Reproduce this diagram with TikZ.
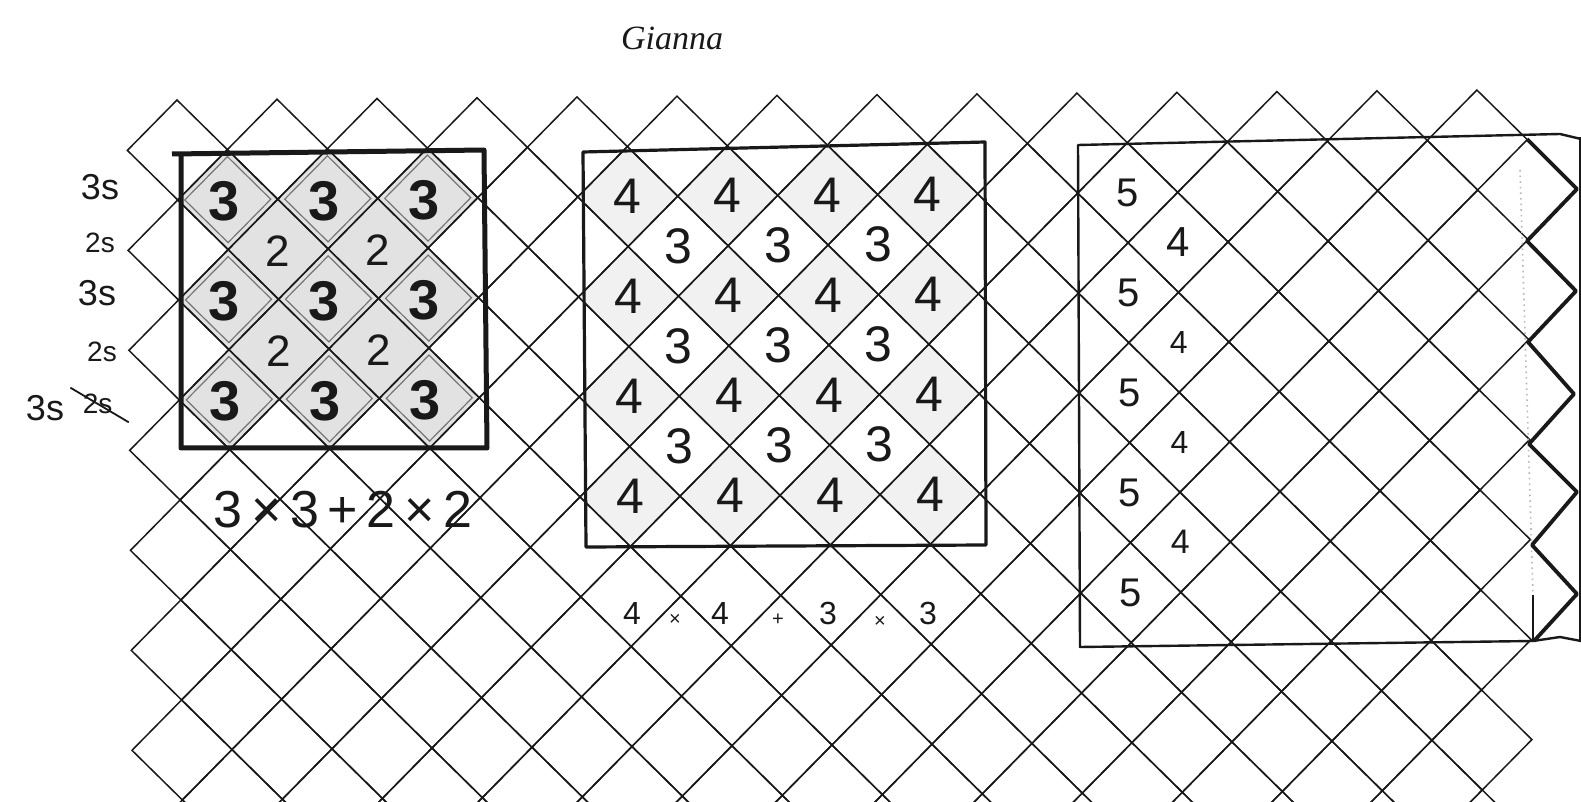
\documentclass[tikz,border=0pt]{standalone}
\usepackage{fontspec}
\setmainfont{Liberation Sans}
\newfontfamily\handfont{Liberation Serif}
\usepackage{xcolor}
\definecolor{ink}{RGB}{25,25,25}
\definecolor{lead}{RGB}{226,226,226}
\definecolor{llead}{RGB}{241,241,241}
\usepackage{tikz}
\usetikzlibrary{positioning}

\begin{document}
\begin{tikzpicture}[x=0.5pt,y=-0.5pt,
  gridl/.style={draw=ink,line width=0.75pt},
  sqa/.style={draw=ink,line width=2.5pt,line join=round},
  sqb/.style={draw=ink,line width=1.6pt,line join=round},
  sqc/.style={draw=ink,line width=1.2pt,line join=round},
  zig/.style={draw=ink,line width=1.9pt,line join=round},
  numa/.style={inner sep=0pt,text=ink,font=\fontsize{28}{28}\selectfont\bfseries},
  numb/.style={inner sep=0pt,text=ink,font=\fontsize{22}{22}\selectfont},
  numc/.style={inner sep=0pt,text=ink,font=\fontsize{25}{25}\selectfont},
  numd/.style={inner sep=0pt,text=ink,font=\fontsize{20}{20}\selectfont},
  lab/.style={inner sep=0pt,text=ink,font=\fontsize{18}{18}\selectfont},
  labs/.style={inner sep=0pt,text=ink,font=\fontsize{14}{14}\selectfont}
]
  \useasboundingbox (0,0) rectangle (1581,802);
  \clip (0,0) rectangle (1581,802);
  \fill[white] (0,0) rectangle (1581,802);

  \begin{scope}[rotate around={0.44:(177,100)}]
    % pencil shading
    \foreach \i/\j in {2/2,4/2,6/2,3/3,5/3,2/4,4/4,6/4,3/5,5/5,2/6,4/6,6/6}
      \fill[lead] ({127+50*\i},{50+50*\j}) -- ++(50,50) -- ++(-50,50) -- ++(-50,-50) -- cycle;
    \foreach \i in {10,12,14,16}
      \foreach \j in {2,4,6,8}
        \fill[llead] ({127+50*\i},{50+50*\j}) -- ++(50,50) -- ++(-50,50) -- ++(-50,-50) -- cycle;

    % Grid
    \foreach \i in {1,...,27}
      \foreach \j in {1,...,15}{
        \ifodd\numexpr\i+\j\relax\else
          \draw[gridl] ({127+50*\i},{50+50*\j}) -- ++(50,50) -- ++(-50,50) -- ++(-50,-50) -- cycle;
        \fi
      }

    % traced 3-cells
    \foreach \i/\j in {2/2,4/2,6/2,2/4,4/4,6/4,2/6,4/6,6/6}
      \draw[ink!60,line width=0.6pt] ({127+50*\i},{57+50*\j}) -- ++(43,43) -- ++(-43,43) -- ++(-43,-43) -- cycle;

    % Square 1
    \foreach \i/\j [count=\n] in {2/2,4/2,6/2,2/4,4/4,6/4,2/6,4/6,6/6}
      \node[numa] (a\n) at ({123+50*\i},{102+50*\j}) {3};
    \foreach \i/\j [count=\n] in {3/3,5/3,3/5,5/5}
      \node[numb] (b\n) at ({127+50*\i},{102+50*\j}) {2};

    % Square 2
    \foreach \i in {10,12,14,16}
      \foreach \j in {2,4,6,8}
        \node[numc] (c\i-\j) at ({127+50*\i},{100+50*\j}) {4};
    \foreach \i in {11,13,15}
      \foreach \j in {3,5,7}
        \node[numc] (d\i-\j) at ({127+50*\i},{100+50*\j}) {3};

    % Square 3
    \foreach \j in {2,4,6,8,10}
      \node[numd] (f\j) at (1127,{100+50*\j}) {5};
    \foreach \j/\s in {3/21,5/16,7/16,9/17}
      \node[inner sep=0pt,text=ink,font=\fontsize{\s}{\s}\selectfont] (g\j) at (1177,{100+50*\j}) {4};
  \end{scope}

  % Squares
  \draw[sqa] (172,154) -- (484,150) -- (487,448) -- (181,448) -- (181,152);
  \draw[sqb] (583,152) -- (985,142) -- (986,545) -- (586,547) -- cycle;
  \draw[sqc] (1581,139) -- (1560,134) -- (1078,145) -- (1080,647) -- (1533,641) -- (1560,637) -- (1581,641);
  \draw[sqc] (1580,137) -- (1580,641);
  \draw[gray!55,dotted,line width=0.8pt] (1520,170) -- (1533,595);
  \draw[ink,line width=0.7pt] (1533,595) -- (1533,641);
  \draw[zig] (1527,139) -- (1577,189) -- (1527,241) -- (1576,291) -- (1528,342)
    -- (1574,394) -- (1529,444) -- (1577,492) -- (1532,545) -- (1577,594) -- (1534,641);

  % Labels
  \node[lab] (l1) at (100,187) {3s};
  \node[labs] (l2) at (100,243) {2s};
  \node[lab] (l3) at (97,293) {3s};
  \node[labs] (l4) at (102,352) {2s};
  \node[lab] (l5) at (45,408) {3s};
  \node[labs,right=9pt of l5,yshift=2pt] (l5x) {2s};
  \draw[ink,line width=0.9pt] ([xshift=-6pt,yshift=3pt]l5x.north west) -- ([xshift=8pt,yshift=-4pt]l5x.south east);

  \node[inner sep=0pt,text=ink,font=\fontsize{26}{26}\selectfont] (e1) at (343,510) {3\,×\,3\,+\,2\,×\,2};

  \foreach \x/\y/\t/\s [count=\n] in {632/613/4/16,675/620/×/10,720/613/4/16,778/620/+/10,828/613/3/16,880/622/×/10,928/613/3/16}
    \node[inner sep=0pt,text=ink,font=\fontsize{\s}{\s}\selectfont] (e2-\n) at (\x,\y) {\t};

  \node[inner sep=0pt,text=ink,font=\handfont\itshape\fontsize{17}{17}\selectfont] (name) at (672,38) {Gianna};
\end{tikzpicture}
\end{document}
